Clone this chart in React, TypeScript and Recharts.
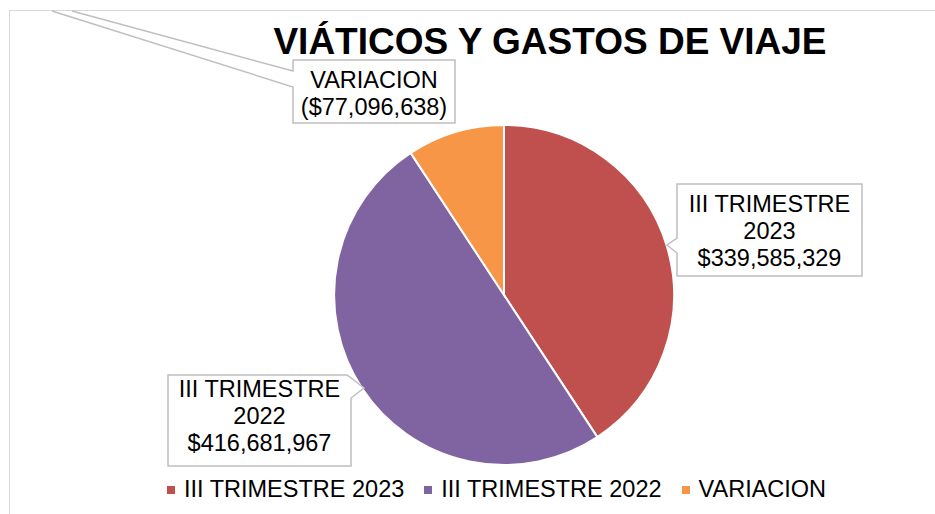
import { PieChart, Pie, Cell, Legend } from "recharts"

const categories = ["III TRIMESTRE 2023", "III TRIMESTRE 2022", "VARIACION"]
const labelNames = [["III TRIMESTRE", "2023"], ["III TRIMESTRE", "2022"], ["VARIACION"]]
const values = [339585329, 416681967, -77096638]
const colors = ["#C0504D", "#8064A2", "#F79646"]

const data = categories.map((name, i) => ({ name, value: Math.abs(values[i]), raw: values[i] }))

const FONT = "'Liberation Sans', Arial, sans-serif"
const LABEL_SIZE = 23.5

const fmt = (v: number) =>
  v < 0 ? `($${Math.abs(v).toLocaleString("en-US")})` : `$${v.toLocaleString("en-US")}`

// callout boxes, offsets from the pie centre
const boxes = [
  { x1: 173, x2: 358, y1: -111, y2: -19, first: -83 },
  { x1: -336, x2: -153, y1: 80, y2: 171, first: 102 },
  { x1: -211, x2: -49, y1: -235, y2: -172, first: -207 },
]

function renderLabel(props: any) {
  const { cx, cy, index } = props
  const b = boxes[index]
  const x1 = cx + b.x1
  const x2 = cx + b.x2
  const y1 = cy + b.y1
  const y2 = cy + b.y2
  let path = ""
  if (index === 0) {
    path = `M${x1},${y1} H${x2} V${y2} H${x1} V${cy - 42} L${cx + 163} ${cy - 50} L${x1} ${cy - 57} Z`
  } else if (index === 1) {
    path = `M${x1},${y1} H${x2 - 4} L${cx - 140} ${cy + 93} L${x2} ${cy + 103} V${y2} H${x1} Z`
  } else {
    path = `M${x1},${y1} H${x2} V${y2} H${x1} V${cy - 208} L${cx - 452} ${cy - 284} M${cx - 432} ${cy - 284} L${x1} ${cy - 224} V${y1}`
  }
  const lines = [...labelNames[index], fmt(values[index])]
  const mid = (x1 + x2) / 2
  return (
    <g key={`lbl-${index}`}>
      {index === 2 ? (
        <>
          <path d={`M${x1},${y1} H${x2} V${y2} H${x1} Z`} fill="#fff" stroke="none" />
          <path d={path} fill="none" stroke="#BFBFBF" strokeWidth={1.5} />
        </>
      ) : (
        <path d={path} fill="#fff" stroke="#BFBFBF" strokeWidth={1.5} />
      )}
      {lines.map((t, k) => (
        <text
          key={k}
          x={mid}
          y={cy + b.first + k * 27}
          textAnchor="middle"
          fontFamily={FONT}
          fontSize={LABEL_SIZE}
          fill="#000"
        >
          {t}
        </text>
      ))}
    </g>
  )
}

function renderLegend() {
  return (
    <div
      style={{
        display: "flex",
        alignItems: "center",
        paddingLeft: 167,
        fontFamily: FONT,
        fontSize: LABEL_SIZE,
        lineHeight: "26px",
        color: "#000",
        whiteSpace: "nowrap",
      }}
    >
      {categories.map((c, i) => (
        <div key={c} style={{ display: "flex", alignItems: "center", marginRight: 20 }}>
          <span style={{ width: 8, height: 8, background: colors[i], marginRight: 9, marginTop: 1 }} />
          <span>{c}</span>
        </div>
      ))}
    </div>
  )
}

export default function App() {
  return (
    <div style={{ position: "absolute", left: 0, top: 0, width: 935, height: 514, overflow: "hidden", background: "#fff" }}>
      <div
        style={{
          position: "absolute",
          left: 9,
          top: 10,
          width: 1000,
          height: 600,
          border: "1.5px solid #D9D9D9",
        }}
      />
      <div
        style={{
          position: "absolute",
          left: 0,
          top: 20,
          width: 1100,
          textAlign: "center",
          fontFamily: FONT,
          fontWeight: "bold",
          fontSize: 37,
          lineHeight: "44px",
          color: "#000",
        }}
      >
        VIÁTICOS Y GASTOS DE VIAJE
      </div>
      <div style={{ position: "absolute", left: 0, top: 0 }}>
        <PieChart width={935} height={514}>
          <Pie
            data={data}
            dataKey="value"
            nameKey="name"
            cx={499}
            cy={290}
            outerRadius={170}
            startAngle={90}
            endAngle={-270}
            stroke="#fff"
            strokeWidth={2}
            label={renderLabel}
            labelLine={false}
            isAnimationActive={false}
          >
            {data.map((d, i) => (
              <Cell key={d.name} fill={colors[i]} />
            ))}
          </Pie>
          <Legend content={renderLegend} wrapperStyle={{ position: "absolute", left: 0, top: 476, width: 935 }} />
        </PieChart>
      </div>
    </div>
  )
}
